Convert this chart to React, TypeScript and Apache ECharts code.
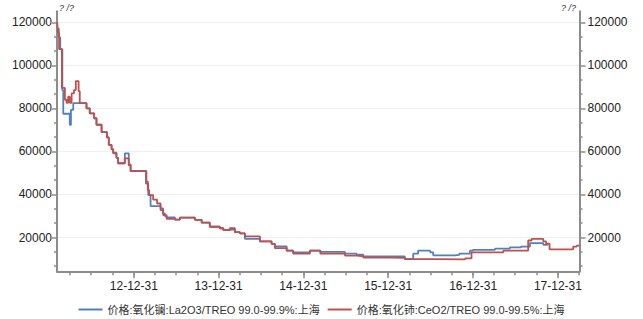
import React, { useEffect, useRef } from 'react';
import * as echarts from 'echarts';

const FONT = '"Liberation Sans", "Noto Sans CJK SC", sans-serif';

const seriesNames = [
  '价格:氧化镧:La2O3/TREO 99.0-99.9%:上海',
  '价格:氧化铈:CeO2/TREO 99.0-99.5%:上海',
];
const seriesColors = ['#4f81bd', '#c0504d'];

// La2O3 (blue) step change points
const laDates = [
  '2012-02-05', '2012-02-12', '2012-02-18', '2012-02-27', '2012-03-02', '2012-03-30', '2012-04-04', '2012-04-14',
  '2012-06-10', '2012-06-24', '2012-07-13', '2012-07-23', '2012-08-14', '2012-09-06', '2012-09-14', '2012-09-26',
  '2012-10-03', '2012-10-17', '2012-10-24', '2012-11-22', '2012-12-09', '2012-12-17', '2013-02-21', '2013-03-03',
  '2013-03-13', '2013-04-25', '2013-05-06', '2013-05-14', '2013-05-21', '2013-06-26', '2013-07-17', '2013-09-20',
  '2013-10-19', '2013-11-23', '2014-01-05', '2014-01-20', '2014-02-17', '2014-03-11', '2014-04-02', '2014-04-23',
  '2014-06-27', '2014-08-16', '2014-08-30', '2014-10-20', '2014-11-17', '2015-01-28', '2015-03-14', '2015-06-28',
  '2015-08-17', '2015-09-15', '2016-03-12', '2016-04-17', '2016-05-08', '2016-06-29', '2016-07-12', '2016-10-14',
  '2016-11-01', '2016-12-17', '2016-12-31', '2017-04-04', '2017-06-07', '2017-07-25', '2017-09-02', '2017-10-29',
  '2017-11-18',
];
const laValues = [
  117000, 113000, 107500, 88500, 77500, 72300, 79300, 82400,
  80000, 77700, 75400, 72400, 69000, 66500, 63000, 61000,
  59400, 57000, 54500, 59100, 54000, 50900, 45000, 39700,
  34600, 33500, 31200, 29900, 29300, 28300, 29200, 28200,
  26900, 25000, 24300, 23500, 23800, 22500, 21900, 19400,
  18200, 17000, 15900, 13900, 13100, 13900, 13300, 12500,
  12000, 11200, 10000, 12500, 13900, 13100, 11700, 11900,
  12500, 13900, 14300, 14800, 15400, 15800, 17400, 16600,
  16600,
];

// CeO2 (red) step change points
const ceDates = [
  '2012-02-05', '2012-02-08', '2012-02-13', '2012-02-25', '2012-03-09', '2012-03-16', '2012-03-23', '2012-03-30',
  '2012-04-07', '2012-04-17', '2012-04-25', '2012-05-07', '2012-05-12', '2012-06-10', '2012-06-24', '2012-07-13',
  '2012-07-23', '2012-08-14', '2012-09-06', '2012-09-14', '2012-09-26', '2012-10-03', '2012-10-17', '2012-10-24',
  '2012-11-22', '2012-12-09', '2012-12-17', '2013-02-23', '2013-03-01', '2013-03-07', '2013-03-24', '2013-04-10',
  '2013-04-25', '2013-05-06', '2013-05-21', '2013-06-26', '2013-07-17', '2013-09-20', '2013-10-19', '2013-11-23',
  '2014-01-05', '2014-01-20', '2014-02-17', '2014-03-11', '2014-04-02', '2014-04-23', '2014-06-27', '2014-08-16',
  '2014-08-30', '2014-10-20', '2014-11-17', '2015-01-28', '2015-03-14', '2015-06-28', '2015-08-17', '2015-09-15',
  '2016-01-08', '2016-03-12', '2016-07-11', '2016-11-26', '2016-12-24', '2017-05-10', '2017-08-25', '2017-09-09',
  '2017-10-29', '2017-11-10', '2017-11-25', '2018-03-07', '2018-03-22', '2018-04-03',
];
const ceValues = [
  120000, 115000, 107500, 89500, 84000, 82600, 85400, 82600,
  87000, 88500, 92700, 88000, 82400, 80000, 77700, 75400,
  72400, 69000, 66500, 63000, 61000, 59100, 57000, 54500,
  56800, 53500, 50800, 46000, 42000, 39700, 37600, 35800,
  32700, 30400, 28700, 28300, 29200, 28200, 26900, 25000,
  24300, 23500, 24300, 22500, 21900, 20500, 18200, 17000,
  15100, 13900, 12500, 13900, 12500, 11600, 11300, 10700,
  10500, 10000, 9800, 10300, 13100, 13900, 18600, 19400,
  18200, 17100, 14500, 15800, 16200, 16200,
];

const xStart = '2012-02-04';
const xEnd = '2018-04-03';
const yearLabelDates = ['2012-12-31', '2013-12-31', '2014-12-31', '2015-12-31', '2016-12-31', '2017-12-31'];
const quarterTickDates = [
  '2012-03-31', '2012-06-30', '2012-09-30', '2012-12-31',
  '2013-03-31', '2013-06-30', '2013-09-30', '2013-12-31',
  '2014-03-31', '2014-06-30', '2014-09-30', '2014-12-31',
  '2015-03-31', '2015-06-30', '2015-09-30', '2015-12-31',
  '2016-03-31', '2016-06-30', '2016-09-30', '2016-12-31',
  '2017-03-31', '2017-06-30', '2017-09-30', '2017-12-31',
  '2018-03-31',
];

const yMin = 4300;
const yMax = 125100;
const yLabelValues = [20000, 40000, 60000, 80000, 100000, 120000];
const yMinorTickValues = [
  6667, 13333, 26667, 33333, 46667, 53333, 66667, 73333, 86667, 93333, 106667, 113333,
];

const ts = (s: string) => new Date(s + 'T00:00:00').getTime();
const pad = (n: number) => (n < 10 ? '0' + n : String(n));
const fmtDate = (v: number) => {
  const d = new Date(v);
  return `${String(d.getFullYear()).slice(2)}-${pad(d.getMonth() + 1)}-${pad(d.getDate())}`;
};

const AXIS_COLOR = '#8c8c8c';
const LABEL_COLOR = '#222';

export default function App() {
  const ref = useRef<HTMLDivElement>(null);
  useEffect(() => {
    document.body.style.margin = '0';
    if (!ref.current) return;
    const chart = echarts.init(ref.current, undefined, { renderer: 'svg' });
    const xMin = ts(xStart);
    const xMax = ts(xEnd);
    const yAxisBase = (position: 'left' | 'right') => ({
      type: 'value',
      position,
      min: yMin,
      max: yMax,
      axisLine: { show: true, lineStyle: { color: AXIS_COLOR, width: 2 } },
      axisTick: {
        show: true,
        customValues: yLabelValues,
        length: position === 'left' ? 5 : 6,
        lineStyle: { color: AXIS_COLOR, width: 1.5 },
      },
      axisLabel: {
        show: true,
        customValues: yLabelValues,
        formatter: (v: number) => String(v),
        color: LABEL_COLOR,
        fontSize: 12,
        fontFamily: FONT,
        margin: position === 'left' ? 5 : 8,
      },
      splitLine: { show: position === 'left', lineStyle: { color: '#efefef', width: 1 } },
    });
    const yAxisMinor = (position: 'left' | 'right') => ({
      type: 'value',
      position,
      min: yMin,
      max: yMax,
      axisLine: { show: false },
      axisTick: {
        show: true,
        customValues: yMinorTickValues,
        length: 3,
        lineStyle: { color: AXIS_COLOR, width: 1.5 },
      },
      axisLabel: { show: false },
      splitLine: { show: false },
    });
    chart.setOption({
      animation: false,
      textStyle: { fontFamily: FONT },
      grid: { left: 57, right: 63.5, top: 11.3, bottom: 47.7, containLabel: false },
      xAxis: [
        {
          type: 'value',
          min: xMin,
          max: xMax,
          axisLine: { show: true, onZero: false, lineStyle: { color: AXIS_COLOR, width: 2 } },
          axisTick: { show: true, customValues: quarterTickDates.map(ts), length: 4, lineStyle: { color: AXIS_COLOR, width: 1.5 } },
          axisLabel: { show: false },
          splitLine: { show: false },
        },
        {
          type: 'value',
          position: 'bottom',
          min: xMin,
          max: xMax,
          axisLine: { show: false, onZero: false },
          axisTick: { show: true, customValues: yearLabelDates.map(ts), length: 7, lineStyle: { color: AXIS_COLOR, width: 1.5 } },
          axisLabel: {
            show: true,
            customValues: yearLabelDates.map(ts),
            formatter: (v: number) => fmtDate(v),
            color: LABEL_COLOR,
            fontSize: 12,
            fontFamily: FONT,
            margin: 9,
          },
          splitLine: { show: false },
        },
      ],
      yAxis: [yAxisBase('left'), yAxisMinor('left'), yAxisBase('right'), yAxisMinor('right')],
      legend: {
        top: 299,
        left: 'center',
        icon: 'rect',
        itemWidth: 24,
        itemHeight: 2,
        itemGap: 8,
        textStyle: { color: '#333', fontSize: 11, fontFamily: FONT },
        data: seriesNames,
      },
      graphic: [
        { type: 'text', left: 59, top: 3, style: { text: '? /?', font: 'italic 9px "Liberation Sans"', fill: '#334' } },
        { type: 'text', left: 561, top: 3, style: { text: '? /?', font: 'italic 9px "Liberation Sans"', fill: '#334' } },
      ],
      series: [
        {
          name: seriesNames[0],
          type: 'line',
          step: 'end',
          symbol: 'none',
          xAxisIndex: 0,
          yAxisIndex: 0,
          lineStyle: { color: seriesColors[0], width: 1.8 },
          itemStyle: { color: seriesColors[0] },
          data: laDates.map((d, i) => [ts(d), laValues[i]]),
        },
        {
          name: seriesNames[1],
          type: 'line',
          step: 'end',
          symbol: 'none',
          xAxisIndex: 0,
          yAxisIndex: 0,
          lineStyle: { color: seriesColors[1], width: 1.8 },
          itemStyle: { color: seriesColors[1] },
          data: ceDates.map((d, i) => [ts(d), ceValues[i]]),
        },
      ],
    });
    return () => chart.dispose();
  }, []);
  return <div ref={ref} style={{ width: 643, height: 319 }} />;
}
